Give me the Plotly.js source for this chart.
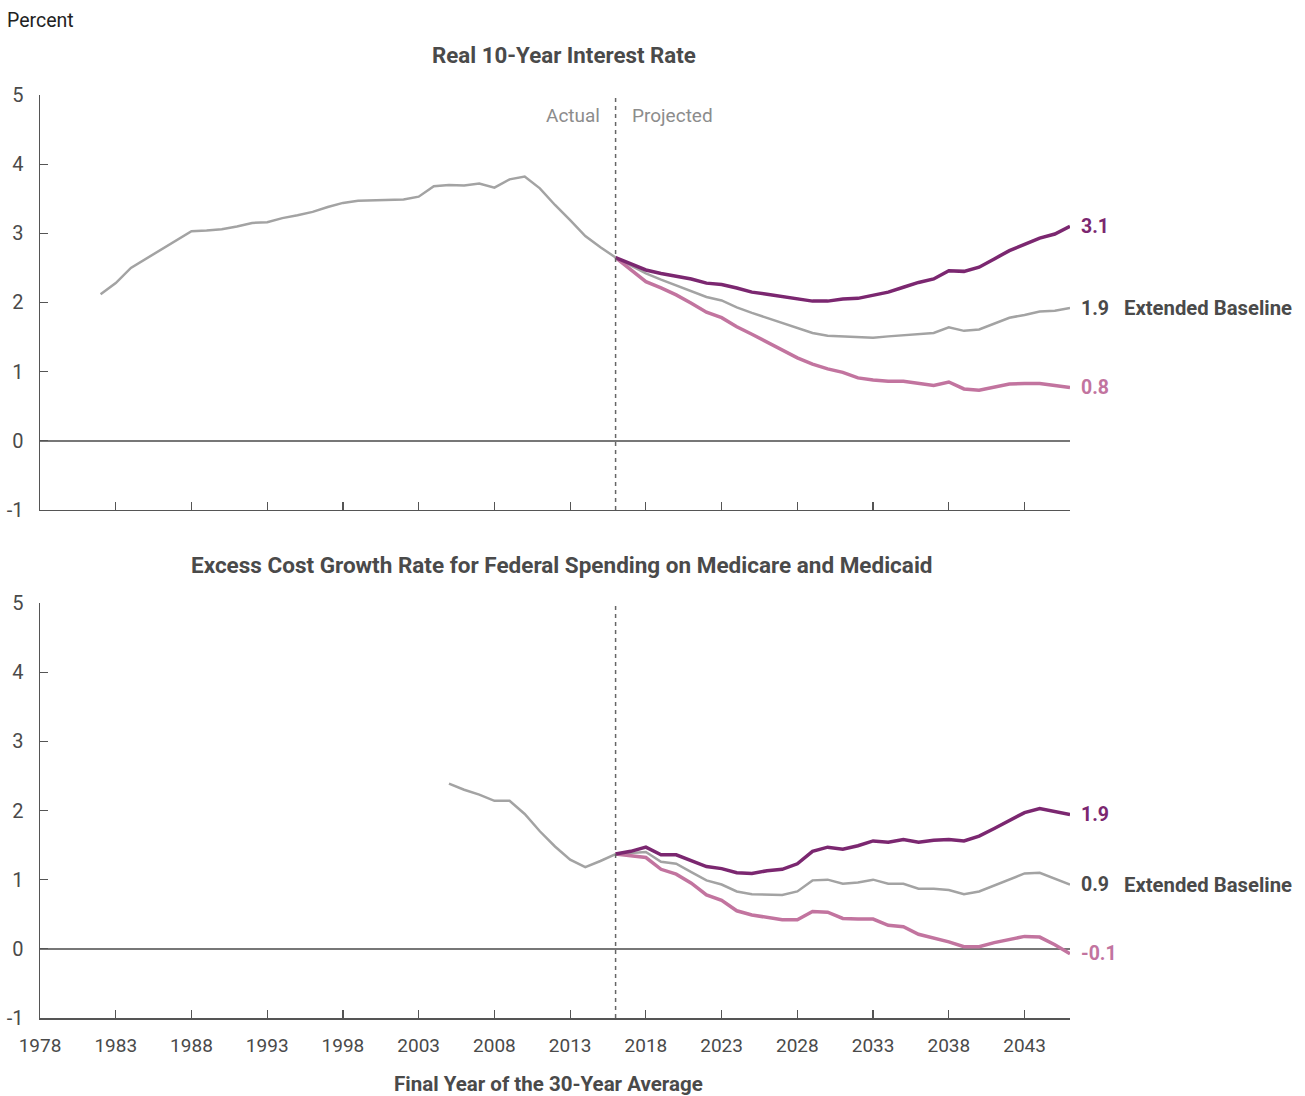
<!DOCTYPE html>
<html>
<head>
<meta charset="utf-8">
<script src="https://cdn.plot.ly/plotly-3.0.1.min.js"></script>
<style>
html,body{margin:0;padding:0;background:#fff;}
#chart{width:1305px;height:1096px;}
</style>
</head>
<body>
<div id="chart"></div>
<script>
// ---- Data ----
var rateActualYears = [1982,1983,1984,1985,1986,1987,1988,1989,1990,1991,1992,1993,1994,1995,1996,1997,1998,1999,2000,2001,2002,2003,2004,2005,2006,2007,2008,2009,2010,2011,2012,2013,2014,2015,2016];
var rateActual = [2.12,2.28,2.50,2.63,2.76,2.90,3.03,3.04,3.06,3.10,3.15,3.16,3.22,3.26,3.31,3.38,3.44,3.47,3.48,3.49,3.49,3.53,3.68,3.70,3.69,3.72,3.66,3.78,3.82,3.65,3.41,3.19,2.96,2.80,2.65];

var projYears = [2016,2017,2018,2019,2020,2021,2022,2023,2024,2025,2026,2027,2028,2029,2030,2031,2032,2033,2034,2035,2036,2037,2038,2039,2040,2041,2042,2043,2044,2045,2046];
var rateHigh = [2.65,2.56,2.47,2.42,2.38,2.34,2.28,2.26,2.21,2.15,2.12,2.09,2.05,2.02,2.02,2.05,2.06,2.10,2.15,2.22,2.29,2.34,2.46,2.45,2.51,2.63,2.75,2.84,2.93,2.99,3.10];
var rateBase = [2.65,2.53,2.42,2.33,2.25,2.17,2.08,2.03,1.93,1.85,1.78,1.71,1.64,1.56,1.52,1.51,1.49,1.49,1.51,1.53,1.55,1.56,1.64,1.59,1.61,1.70,1.78,1.82,1.87,1.88,1.92];
var rateLow = [2.65,2.47,2.30,2.21,2.11,1.99,1.86,1.78,1.65,1.54,1.43,1.32,1.20,1.11,1.04,0.99,0.91,0.88,0.86,0.86,0.83,0.80,0.85,0.75,0.73,0.78,0.82,0.83,0.83,0.80,0.77];

var costActualYears = [2005,2006,2007,2008,2009,2010,2011,2012,2013,2014,2015,2016];
var costActual = [2.39,2.30,2.23,2.14,2.14,1.95,1.70,1.48,1.29,1.18,1.27,1.37];
var costHigh = [1.37,1.41,1.47,1.36,1.36,1.27,1.19,1.16,1.10,1.09,1.13,1.15,1.23,1.41,1.47,1.44,1.49,1.56,1.54,1.58,1.54,1.57,1.58,1.56,1.63,1.74,1.86,1.97,2.03,1.99,1.94];
var costBase = [1.37,1.39,1.40,1.26,1.23,1.11,0.99,0.93,0.83,0.79,0.79,0.78,0.83,0.99,1.00,0.94,0.96,1.00,0.94,0.94,0.87,0.87,0.85,0.79,0.83,0.92,1.01,1.09,1.10,1.02,0.93];
var costLow = [1.37,1.35,1.32,1.15,1.08,0.95,0.78,0.70,0.55,0.49,0.46,0.42,0.42,0.54,0.53,0.44,0.43,0.43,0.34,0.32,0.21,0.16,0.10,0.03,0.03,0.09,0.14,0.18,0.17,0.06,-0.07];

var xTickVals = [1978,1983,1988,1993,1998,2003,2008,2013,2018,2023,2028,2033,2038,2043];
var xTickText = ['1978','1983','1988','1993','1998','2003','2008','2013','2018','2023','2028','2033','2038','2043'];
var yTickVals = [-1,0,1,2,3,4,5];
var yTickText = ['-1','0','1','2','3','4','5'];

var topTitle = 'Real 10-Year Interest Rate';
var bottomTitle = 'Excess Cost Growth Rate for Federal Spending on Medicare and Medicaid';
var xTitle = 'Final Year of the 30-Year Average';
var projStart = 2016;

// ---- Styles ----
var FONT = '"Roboto", "Liberation Sans", sans-serif';
var cHigh = '#7b2770', cLow = '#c2749f', cGrey = '#a3a3a3', cText = '#4a4a4a';

function line(x, y, color, width, xa, ya) {
  return {x: x, y: y, xaxis: xa, yaxis: ya, type: 'scatter', mode: 'lines',
          line: {color: color, width: width}, hoverinfo: 'skip', showlegend: false};
}

var data = [
  line(rateActualYears, rateActual, cGrey, 2.5, 'x', 'y'),
  line(projYears, rateBase, cGrey, 2.5, 'x', 'y'),
  line(projYears, rateLow, cLow, 3.5, 'x', 'y'),
  line(projYears, rateHigh, cHigh, 3.5, 'x', 'y'),
  line(costActualYears, costActual, cGrey, 2.5, 'x2', 'y2'),
  line(projYears, costBase, cGrey, 2.5, 'x2', 'y2'),
  line(projYears, costLow, cLow, 3.5, 'x2', 'y2'),
  line(projYears, costHigh, cHigh, 3.5, 'x2', 'y2')
];

var lastIdx = projYears.length - 1;
var lastYear = projYears[lastIdx];

function xaxis(showLabels, anchor) {
  return {
    range: [1978, 2046], anchor: anchor, showgrid: false, zeroline: false,
    showline: true, linecolor: '#555', linewidth: 1.5,
    ticks: 'inside', ticklen: 8, tickwidth: 1.2, tickcolor: '#555',
    tickvals: xTickVals, ticktext: xTickText, showticklabels: showLabels,
    ticklabelstandoff: 10,
    tickfont: {family: FONT, size: 19, color: cText}, fixedrange: true
  };
}
function yaxis(domain, anchor) {
  return {
    domain: domain, anchor: anchor, range: [-1, 5], tickvals: yTickVals, ticktext: yTickText,
    showgrid: false, zeroline: true, zerolinecolor: '#777', zerolinewidth: 1.5,
    showline: true, linecolor: '#555', linewidth: 1.5,
    ticks: 'inside', ticklen: 8, tickwidth: 1.2, tickcolor: '#555',
    tickfont: {family: FONT, size: 20, color: cText}, ticklabelstandoff: 11, fixedrange: true
  };
}

function endLabel(xa, ya, y, text, color) {
  return {xref: xa, yref: ya, x: lastYear, y: y, text: text, showarrow: false,
          xanchor: 'left', xshift: 9, font: {family: FONT, size: 19.5, color: color}};
}
function extLabel(xa, ya, y) {
  return {xref: xa, yref: ya, x: lastYear, y: y, text: '<b>Extended Baseline</b>', showarrow: false,
          xanchor: 'left', xshift: 52, font: {family: FONT, size: 20.3, color: cText}};
}

var annotations = [
  {xref: 'paper', yref: 'paper', x: -0.034, y: 1.081, xanchor: 'left', yanchor: 'middle',
   text: 'Percent', showarrow: false, font: {family: FONT, size: 19.5, color: '#222'}},
  {xref: 'paper', yref: 'paper', x: 0.509, y: 1.043, xanchor: 'center', yanchor: 'middle',
   text: '<b>' + topTitle + '</b>', showarrow: false, font: {family: FONT, size: 22.3, color: cText}},
  {xref: 'paper', yref: 'paper', x: 0.507, y: 0.491, xanchor: 'center', yanchor: 'middle',
   text: '<b>' + bottomTitle + '</b>', showarrow: false, font: {family: FONT, size: 22.5, color: cText}},
  {xref: 'paper', yref: 'paper', x: 0.494, y: -0.071, xanchor: 'center', yanchor: 'middle',
   text: '<b>' + xTitle + '</b>', showarrow: false, font: {family: FONT, size: 20.5, color: cText}},
  {xref: 'x', yref: 'paper', x: projStart, y: 0.978, xanchor: 'right', yanchor: 'middle', xshift: -14,
   text: 'Actual', showarrow: false, font: {family: FONT, size: 19, color: '#8c8c8c'}},
  {xref: 'x', yref: 'paper', x: projStart, y: 0.978, xanchor: 'left', yanchor: 'middle', xshift: 14,
   text: 'Projected', showarrow: false, font: {family: FONT, size: 19, color: '#8c8c8c'}},
  endLabel('x', 'y', rateHigh[lastIdx], '<b>3.1</b>', cHigh),
  endLabel('x', 'y', rateBase[lastIdx], '<b>1.9</b>', cText),
  extLabel('x', 'y', rateBase[lastIdx]),
  endLabel('x', 'y', rateLow[lastIdx], '<b>0.8</b>', cLow),
  endLabel('x2', 'y2', costHigh[lastIdx], '<b>1.9</b>', cHigh),
  endLabel('x2', 'y2', costBase[lastIdx], '<b>0.9</b>', cText),
  extLabel('x2', 'y2', costBase[lastIdx]),
  endLabel('x2', 'y2', costLow[lastIdx], '<b>-0.1</b>', cLow)
];

var shapes = [
  {type: 'line', xref: 'x', yref: 'y domain', x0: projStart, x1: projStart, y0: 0, y1: 1,
   line: {color: '#666', width: 1.5, dash: '4px,4px'}},
  {type: 'line', xref: 'x2', yref: 'y2 domain', x0: projStart, x1: projStart, y0: 0, y1: 1,
   line: {color: '#666', width: 1.5, dash: '4px,4px'}}
];

var layout = {
  width: 1305, height: 1096,
  margin: {l: 40, r: 235, t: 95, b: 78},
  paper_bgcolor: '#fff', plot_bgcolor: '#fff',
  showlegend: false,
  font: {family: FONT, color: cText},
  xaxis: xaxis(false, 'y'),
  yaxis: yaxis([0.5504, 1], 'x'),
  xaxis2: xaxis(true, 'y2'),
  yaxis2: yaxis([0, 0.4496], 'x2'),
  annotations: annotations,
  shapes: shapes
};

Plotly.newPlot('chart', data, layout, {displayModeBar: false, staticPlot: true});
</script>
</body>
</html>
